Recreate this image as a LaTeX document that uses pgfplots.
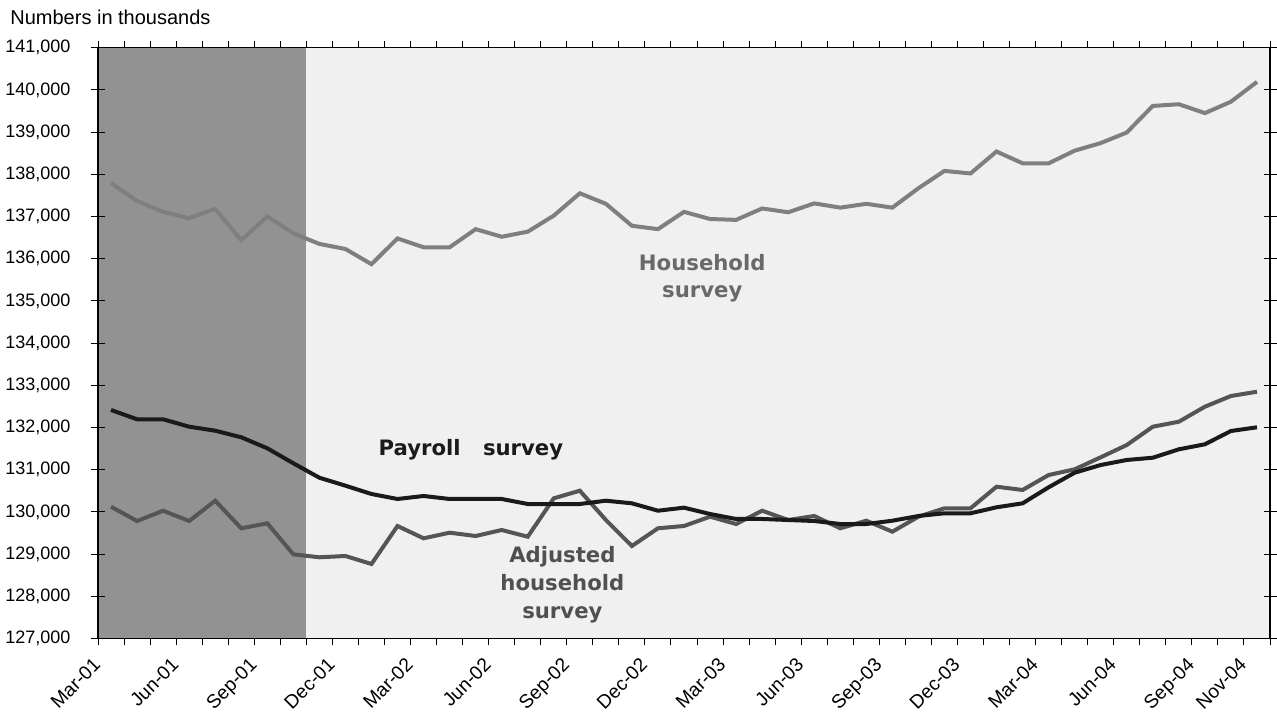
\documentclass[border=0pt]{standalone}
\usepackage{fontspec}
\setmainfont{Liberation Sans}
\newfontfamily\dejavu{DejaVu Sans}
\usepackage{pgfplots}
\pgfplotsset{compat=1.18}
\usepackage{pgfplotstable}
\definecolor{shade}{RGB}{146,146,146}
\definecolor{bg}{RGB}{240,240,240}
\definecolor{hh}{RGB}{127,127,127}
\definecolor{adj}{RGB}{85,85,85}
\definecolor{pay}{RGB}{26,26,26}
\definecolor{hhtxt}{RGB}{105,105,105}
\definecolor{adjtxt}{RGB}{80,80,80}

\pgfplotstableread{
i H P A
0 137790 132415 130123
1 137370 132194 129784
2 137110 132194 130028
3 136960 132019 129784
4 137180 131924 130265
5 136440 131768 129611
6 137000 131507 129730
7 136600 131152 128995
8 136350 130810 128924
9 136230 130621 128955
10 135870 130424 128765
11 136480 130306 129666
12 136270 130377 129374
13 136270 130306 129507
14 136700 130306 129429
15 136520 130306 129571
16 136640 130187 129412
17 137020 130187 130322
18 137550 130187 130502
19 137300 130265 129808
20 136780 130203 129192
21 136700 130028 129611
22 137110 130100 129666
23 136940 129950 129886
24 136920 129832 129713
25 137190 129832 130028
26 137100 129808 129808
27 137310 129784 129903
28 137210 129713 129611
29 137300 129713 129791
30 137210 129791 129531
31 137670 129903 129886
32 138080 129967 130085
33 138020 129967 130085
34 138540 130109 130597
35 138260 130203 130519
36 138260 130583 130874
37 138560 130929 131009
38 138740 131111 131294
39 138990 131230 131585
40 139620 131284 132019
41 139660 131483 132137
42 139450 131602 132493
43 139720 131917 132746
44 140190 132005 132848
}\data

\begin{document}
\begin{tikzpicture}
\path[use as bounding box] (0,0) rectangle (638.5pt,357.5pt);
\node[anchor=base west, inner sep=0pt, font=\fontsize{10}{12}\selectfont] at (5pt,345pt) {Numbers in thousands};
\begin{axis}[
  at={(49pt,38.25pt)}, anchor=south west,
  scale only axis, width=586pt, height=295.4pt,
  xmin=-0.5, xmax=44.5, ymin=127000, ymax=141000,
  axis background/.style={fill=bg},
  axis on top,
  axis line style={black, line width=0.7pt},
  xtick={0,3,6,9,12,15,18,21,24,27,30,33,36,39,42,44},
  xticklabels={Mar-01,Jun-01,Sep-01,Dec-01,Mar-02,Jun-02,Sep-02,Dec-02,Mar-03,Jun-03,Sep-03,Dec-03,Mar-04,Jun-04,Sep-04,Nov-04},
  major x tick style={draw=none},
  minor xtick={-0.5,0.5,1.5,2.5,3.5,4.5,5.5,6.5,7.5,8.5,9.5,10.5,11.5,12.5,13.5,14.5,15.5,16.5,17.5,18.5,19.5,20.5,21.5,22.5,23.5,24.5,25.5,26.5,27.5,28.5,29.5,30.5,31.5,32.5,33.5,34.5,35.5,36.5,37.5,38.5,39.5,40.5,41.5,42.5,43.5,44.5},
  minor x tick style={black, line width=0.5pt},
  minor tick length=3.5pt,
  xtick align=outside,
  ytick={127000,128000,129000,130000,131000,132000,133000,134000,135000,136000,137000,138000,139000,140000,141000},
  yticklabels={{127,000},{128,000},{129,000},{130,000},{131,000},{132,000},{133,000},{134,000},{135,000},{136,000},{137,000},{138,000},{139,000},{140,000},{141,000}},
  ytick align=center,
  major tick length=6.5pt,
  y tick style={black, line width=0.5pt},
  scaled y ticks=false,
  yticklabel style={font=\fontsize{9}{10}\selectfont, xshift=-7pt},
  xticklabel style={rotate=45, anchor=north east, inner sep=1pt, font=\fontsize{9.6}{11}\selectfont, xshift=-7.4pt, yshift=6pt},
  clip=false,
]
\addplot[draw=none, fill=shade] coordinates {(-0.5,141000) (7.5,141000)} \closedcycle;
\addplot[hh, line width=2pt, mark=none] table[x=i, y=H] {\data};
\addplot[adj, line width=2pt, mark=none] table[x=i, y=A] {\data};
\addplot[pay, line width=2pt, mark=none] table[x=i, y=P] {\data};
\node[anchor=base, text=hhtxt, font=\dejavu\bfseries\fontsize{10.6}{12}\selectfont] at (axis cs:22.7,135716) {Household};
\node[anchor=base, text=hhtxt, font=\dejavu\bfseries\fontsize{10.6}{12}\selectfont] at (axis cs:22.7,135092) {survey};
\node[anchor=base, text=pay, font=\dejavu\bfseries\fontsize{10.6}{12}\selectfont] at (axis cs:13.82,131332) {Payroll\hspace{1.05em}survey};
\node[anchor=base, text=adjtxt, font=\dejavu\bfseries\fontsize{10.6}{12}\selectfont] at (axis cs:17.33,128796) {Adjusted};
\node[anchor=base, text=adjtxt, font=\dejavu\bfseries\fontsize{10.6}{12}\selectfont] at (axis cs:17.33,128133) {household};
\node[anchor=base, text=adjtxt, font=\dejavu\bfseries\fontsize{10.6}{12}\selectfont] at (axis cs:17.33,127469) {survey};
\end{axis}
\end{tikzpicture}
\end{document}
